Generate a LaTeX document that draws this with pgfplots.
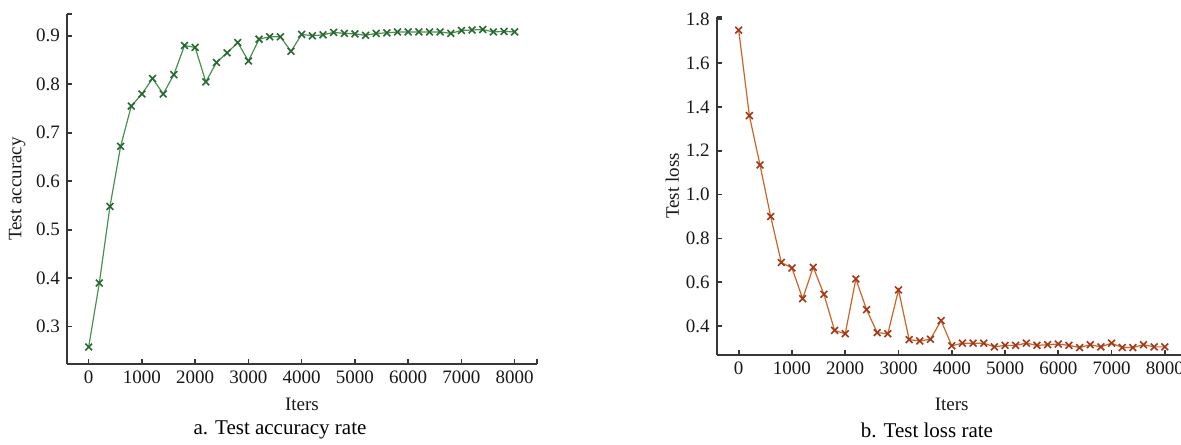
\documentclass[border=0pt]{standalone}
\usepackage{fontspec}
\setmainfont{Liberation Serif}
\usepackage{pgfplots}
\pgfplotsset{compat=1.18}

\definecolor{accgreen}{RGB}{70,145,78}
\definecolor{accmark}{RGB}{40,105,50}
\definecolor{lossorange}{RGB}{205,100,40}
\definecolor{lossmark}{RGB}{165,55,20}
\definecolor{axisgray}{RGB}{55,55,55}

\pgfplotsset{
  panel/.style={
    scale only axis,
    anchor=south west,
    axis x line*=bottom, axis y line*=left,
    axis line style={-, draw=axisgray, line width=0.8pt},
    tick style={draw=axisgray, line width=0.8pt},
    tick align=inside,
    major tick length=2.5pt,
    /pgf/number format/assume math mode=true,
    tick label style={font=\fontsize{9.5}{11}\selectfont, text=black!90},
    label style={font=\fontsize{9.5}{11}\selectfont, text=black!90},
    xtick={0,1000,...,8000},
    xticklabel style={/pgf/number format/1000 sep={}},
    scaled x ticks=false,
    xlabel={Iters},
    extra x tick labels={}, extra y tick labels={},
    clip=false,
  }
}

\begin{document}
\begin{tikzpicture}
\useasboundingbox (0,0) rectangle (590.5pt,222pt);

% a. accuracy
\begin{axis}[panel,
  at={(33.5pt,40pt)}, width=235pt, height=175pt,
  xmin=-407, xmax=8419, ymin=0.223, ymax=0.945,
  ytick={0.3,0.4,...,0.9},
  yticklabel style={/pgf/number format/fixed, /pgf/number format/precision=1, /pgf/number format/fixed zerofill},
  extra x ticks={8419}, extra y ticks={0.945},
  ylabel={Test accuracy},
  ylabel style={yshift=-1.5pt},
]
\addplot[color=accgreen, line width=0.6pt, mark=x, mark size=2.4pt,
  mark options={draw=accmark, line width=0.8pt}]
  coordinates {
  (0,0.258)(200,0.390)(400,0.548)(600,0.672)(800,0.755)(1000,0.780)
  (1200,0.812)(1400,0.780)(1600,0.820)(1800,0.880)(2000,0.876)(2200,0.805)
  (2400,0.845)(2600,0.865)(2800,0.886)(3000,0.848)(3200,0.893)(3400,0.898)
  (3600,0.898)(3800,0.868)(4000,0.903)(4200,0.900)(4400,0.902)(4600,0.907)
  (4800,0.905)(5000,0.904)(5200,0.901)(5400,0.905)(5600,0.906)(5800,0.908)
  (6000,0.908)(6200,0.908)(6400,0.908)(6600,0.908)(6800,0.905)(7000,0.911)
  (7200,0.912)(7400,0.913)(7600,0.908)(7800,0.909)(8000,0.908)};
\end{axis}

% b. loss
\begin{axis}[panel,
  at={(358.35pt,44.5pt)}, width=235pt, height=169pt,
  xmin=-413, xmax=8411, ymin=0.268, ymax=1.81,
  ytick={0.4,0.6,...,1.8},
  yticklabel style={/pgf/number format/fixed, /pgf/number format/precision=1, /pgf/number format/fixed zerofill},
  extra x ticks={8411}, extra y ticks={1.81},
  ylabel={Test loss},
  ylabel style={yshift=-3.5pt},
  xlabel style={yshift=-4.5pt},
]
\addplot[color=lossorange, line width=0.6pt, mark=x, mark size=2.4pt,
  mark options={draw=lossmark, line width=0.8pt}]
  coordinates {
  (0,1.750)(200,1.360)(400,1.135)(600,0.900)(800,0.690)(1000,0.665)
  (1200,0.525)(1400,0.668)(1600,0.545)(1800,0.380)(2000,0.365)(2200,0.615)
  (2400,0.475)(2600,0.370)(2800,0.365)(3000,0.565)(3200,0.338)(3400,0.332)
  (3600,0.340)(3800,0.425)(4000,0.310)(4200,0.322)(4400,0.322)(4600,0.322)
  (4800,0.305)(5000,0.312)(5200,0.312)(5400,0.322)(5600,0.312)(5800,0.315)
  (6000,0.318)(6200,0.312)(6400,0.302)(6600,0.315)(6800,0.305)(7000,0.322)
  (7200,0.302)(7400,0.302)(7600,0.315)(7800,0.305)(8000,0.305)};
\end{axis}

\node[font=\fontsize{10.5}{12}\selectfont] at (140pt,7pt) {a. Test accuracy rate};
\node[font=\fontsize{10.5}{12}\selectfont] at (463.5pt,7pt) {b. Test loss rate};
\end{tikzpicture}
\end{document}
